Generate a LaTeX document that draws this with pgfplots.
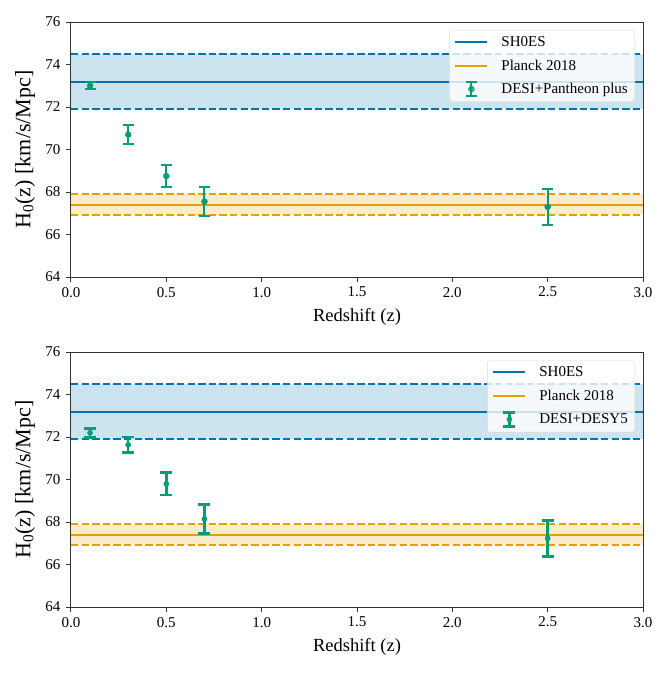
\documentclass[border=0pt]{standalone}
\usepackage{fontspec}
\setmainfont{Liberation Serif}
\usepackage{pgfplots}
\pgfplotsset{compat=1.18}
\definecolor{cbblue}{HTML}{0072B2}
\definecolor{cborange}{HTML}{E69F00}
\definecolor{cbgreen}{HTML}{009E73}
\pgfplotsset{
  hstyle/.style={
    scale only axis, width=572bp, height=255bp,
    xmin=0, xmax=3, ymin=64, ymax=76,
    xtick={0,0.5,1,1.5,2,2.5,3}, ytick={64,66,68,70,72,74,76},
    xticklabel style={yshift=-1.5bp, /pgf/number format/fixed, /pgf/number format/fixed zerofill, /pgf/number format/precision=1},
    /pgf/number format/assume math mode=true,
    tick align=outside, tick pos=left, major tick length=5bp,
    axis line style={black!80, line width=1bp},
    every tick/.style={black!80, line width=1bp},
    tick label style={font=\fontsize{15bp}{18bp}\selectfont},
    yticklabel style={xshift=-2bp},
    xlabel={Redshift (z)},
    ylabel={H\textsubscript{0}(z) [km/s/Mpc]},
    xlabel style={font=\fontsize{18.5bp}{21bp}\selectfont, at={(axis description cs:0.5,-0.1557)}, anchor=center},
    ylabel style={font=\fontsize{22bp}{25bp}\selectfont, at={(axis description cs:-0.0804,0.5)}, anchor=center},
    legend cell align=left,
    legend style={at={(rel axis cs:1,1)}, xshift=-8bp, yshift=-8bp, anchor=north east,
      draw=black!15, rounded corners=3bp, fill=white, fill opacity=0.8, text opacity=1,
      font=\fontsize{15bp}{18bp}\selectfont, inner xsep=5bp, inner ysep=4.5bp,
      row sep=7.5bp, /tikz/every odd column/.append style={column sep=11bp}},
    legend image code/.code={\draw[#1] (0bp,0bp) -- (32bp,0bp);},
  },
  dashA/.style={line width=2bp, dash pattern=on 7.4bp off 3.2bp},
  solidA/.style={line width=2bp},
}
\begin{document}
\begin{tikzpicture}
\useasboundingbox (-71bp,22bp) rectangle (591bp,-658bp);
% ---------- top panel ----------
\begin{axis}[hstyle, at={(0,0)}, anchor=north west]
\addplot[draw=none, fill=cbblue, fill opacity=0.2, forget plot] coordinates {(0,71.9) (3,71.9) (3,74.5) (0,74.5)} -- cycle;
\addplot[draw=none, fill=cborange, fill opacity=0.2, forget plot] coordinates {(0,66.9) (3,66.9) (3,67.9) (0,67.9)} -- cycle;
\addplot[draw=cbblue, dashA, forget plot] coordinates {(0,74.5) (3,74.5)};
\addplot[draw=cbblue, dashA, forget plot] coordinates {(0,71.9) (3,71.9)};
\addplot[draw=cborange, dashA, forget plot] coordinates {(0,67.9) (3,67.9)};
\addplot[draw=cborange, dashA, forget plot] coordinates {(0,66.9) (3,66.9)};
\addplot[draw=cbblue, solidA] coordinates {(0,73.2) (3,73.2)};
\addlegendentry{SH0ES}
\addplot[draw=cborange, solidA] coordinates {(0,67.4) (3,67.4)};
\addlegendentry{Planck 2018}
\addplot[only marks, cbgreen, mark=*, mark size=3bp, mark options={fill=cbgreen, draw=cbgreen},
  legend image code/.code={
    \draw[cbgreen, line width=2bp] (16bp,-7bp) -- (16bp,7bp);
    \draw[cbgreen, line width=2bp] (10.5bp,-7bp) -- (21.5bp,-7bp);
    \draw[cbgreen, line width=2bp] (10.5bp,7bp) -- (21.5bp,7bp);
    \fill[cbgreen] (16bp,0bp) circle (3bp);},
  error bars/.cd, y dir=both, y explicit,
  error bar style={line width=2bp, cbgreen},
  error mark options={rotate=90, mark size=5.5bp, line width=2bp, cbgreen},
  ] coordinates {
  (0.1,73.00) +- (0,0.17)
  (0.3,70.70) +- (0,0.43)
  (0.5,68.75) +- (0,0.53)
  (0.7,67.55) +- (0,0.67)
  (2.5,67.30) +- (0,0.84)
};
\addlegendentry{DESI+Pantheon plus}
\end{axis}
% ---------- bottom panel ----------
\begin{axis}[hstyle, at={(0,-330bp)}, anchor=north west]
\addplot[draw=none, fill=cbblue, fill opacity=0.2, forget plot] coordinates {(0,71.9) (3,71.9) (3,74.5) (0,74.5)} -- cycle;
\addplot[draw=none, fill=cborange, fill opacity=0.2, forget plot] coordinates {(0,66.9) (3,66.9) (3,67.9) (0,67.9)} -- cycle;
\addplot[draw=cbblue, dashA, forget plot] coordinates {(0,74.5) (3,74.5)};
\addplot[draw=cbblue, dashA, forget plot] coordinates {(0,71.9) (3,71.9)};
\addplot[draw=cborange, dashA, forget plot] coordinates {(0,67.9) (3,67.9)};
\addplot[draw=cborange, dashA, forget plot] coordinates {(0,66.9) (3,66.9)};
\addplot[draw=cbblue, solidA] coordinates {(0,73.2) (3,73.2)};
\addlegendentry{SH0ES}
\addplot[draw=cborange, solidA] coordinates {(0,67.4) (3,67.4)};
\addlegendentry{Planck 2018}
\addplot[only marks, cbgreen, mark=*, mark size=2.6bp, mark options={fill=cbgreen, draw=cbgreen},
  legend image code/.code={
    \draw[cbgreen, line width=2.6bp] (16bp,-7bp) -- (16bp,7bp);
    \draw[cbgreen, line width=2.6bp] (10bp,-7bp) -- (22bp,-7bp);
    \draw[cbgreen, line width=2.6bp] (10bp,7bp) -- (22bp,7bp);
    \fill[cbgreen] (16bp,0bp) circle (2.6bp);},
  error bars/.cd, y dir=both, y explicit,
  error bar style={line width=2.6bp, cbgreen},
  error mark options={rotate=90, mark size=6bp, line width=2.6bp, cbgreen},
  ] coordinates {
  (0.1,72.20) +- (0,0.21)
  (0.3,71.63) +- (0,0.37)
  (0.5,69.80) +- (0,0.52)
  (0.7,68.14) +- (0,0.68)
  (2.5,67.23) +- (0,0.85)
};
\addlegendentry{DESI+DESY5}
\end{axis}
\end{tikzpicture}
\end{document}
